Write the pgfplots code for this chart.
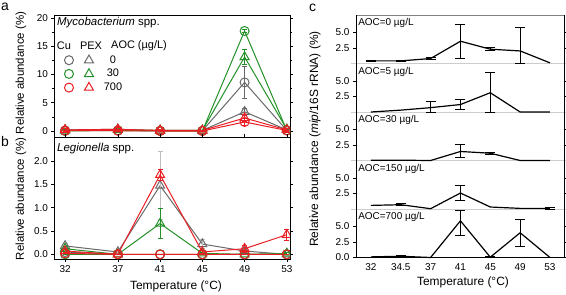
\documentclass[border=0pt]{standalone}
\usepackage{fontspec}
\setmainfont{Liberation Sans}
\usepackage{pgfplots}
\pgfplotsset{compat=1.18}
\usepackage{pgfplotstable}

\definecolor{cgray}{RGB}{105,105,105}
\definecolor{cgreen}{RGB}{35,145,40}
\definecolor{cred}{RGB}{235,30,35}
\definecolor{clgray}{RGB}{190,190,190}
\definecolor{csep}{RGB}{205,205,205}

% Panel c tables: x index (0..6 = 32,34.5,37,41,45,49,53), y, error plus, error minus
\pgfplotstableread{
x y ep em
0 0.42 0.1 0.1
1 0.42 0.1 0.1
2 0.80 0.15 0.15
3 3.58 2.72 2.73
4 2.30 0.2 0.2
5 2.02 3.85 1.97
6 0.10 0 0
}\cA
\pgfplotstableread{
x y ep em
0 0.00 0 0
1 0.30 0 0
2 0.70 1.0 0.7
3 1.20 0.8 0.8
4 3.10 3.2 3.1
5 0.00 0 0
6 0.00 0 0
}\cB
\pgfplotstableread{
x y ep em
0 0.05 0 0
1 0.05 0 0
2 0.00 0 0
3 1.45 1.12 0.92
4 1.17 0.15 0.15
5 0.00 0 0
6 0.00 0 0
}\cC
\pgfplotstableread{
x y ep em
0 0.58 0 0
1 0.69 0.15 0.15
2 0.05 0 0
3 2.57 1.22 1.24
4 0.32 0 0
5 0.10 0 0
6 0.10 0.1 0.1
}\cD
\pgfplotstableread{
x y ep em
0 0.10 0 0
1 0.20 0.08 0.08
2 0.00 0 0
3 5.90 1.70 2.30
4 0.05 0.1 0.05
5 3.98 2.15 2.13
6 0.00 0 0
}\cE

\pgfplotsset{
  tl/.style={font=\fontsize{10}{12}\selectfont},
  abase/.style={scale only axis, width=235.5bp, height=122bp,
    xmin=31, xmax=53.3, tick align=outside,
    axis line style={line width=0.8pt},
    tick style={black, line width=0.6pt},
    major tick length=3bp, minor tick length=2bp,
    tick label style={tl},
    /pgf/number format/assume math mode=true,
    clip marker paths=true},
  serr/.style={error bars/.cd, y dir=both, y explicit,
    error bar style={line width=0.9bp},
    error mark options={rotate=90, mark size=2.5bp, line width=0.9bp}},
  scirc/.style={line width=1bp, mark=o, mark size=4.5bp, mark options={solid, line width=1bp}},
  stri/.style={line width=1bp, mark=triangle, mark size=5.2bp, mark options={solid, line width=1bp}},
  cbase/.style={scale only axis, width=208bp, height=48.5bp,
    xmin=-0.5, xmax=6.47, ymin=0, ymax=7.8, clip=false,
    axis line style={draw=none},
    xtick=\empty, ytick={2.5,5}, yticklabels={2.5,5.0},
    tick align=outside, major tick length=3bp,
    tick style={black, line width=0.6pt},
    tick label style={tl},
    extra y ticks={0}, extra y tick labels={},
    extra y tick style={tick style={csep, line width=0.8pt}, major tick length=5bp}},
  cline/.style={black, line width=1.2bp, no marks},
  cerr/.style={draw=none, no marks, forget plot,
    restrict expr to domain={\thisrow{ep}+\thisrow{em}}{0.01:100},
    error bars/.cd, y dir=both, y explicit,
    error bar style={black, line width=1bp},
    error mark options={rotate=90, mark size=5bp, black, line width=1bp}},
}

\begin{document}
\begin{tikzpicture}
\useasboundingbox (0,0) rectangle (566bp,-295bp);

% ---------------- panel a ----------------
\begin{axis}[abase, at={(54.5bp,-137bp)}, anchor=south west,
  ymin=-1.06, ymax=20.53, xtick=\empty,
  ytick={0,5,10,15,20}, minor ytick={2.5,7.5,12.5,17.5},
  legend columns=2,
  legend image code/.code={\path[draw=none, fill=none] (-6bp,-5bp) rectangle (6bp,5bp); \draw[#1] plot coordinates {(0bp,0bp)};},
  legend style={draw=none, fill=none, at={(axis description cs:0.036,0.672)}, anchor=north west,
    inner sep=0pt, outer sep=0pt, column sep=0pt, row sep=3.5bp,
    nodes={inner sep=0pt, font=\fontsize{11}{12}\selectfont}}]
\addplot[cgray, scirc, serr] coordinates {(32,0.1)+-(0,0.1) (37,0.1)+-(0,0.1) (41,0.05)+-(0,0) (45,0.05)+-(0,0) (49,8.6)+-(0,2.75) (53,0.1)+-(0,0)};
\addlegendentry{\makebox[8bp]{}}
\addplot[cgray, stri, serr] coordinates {(32,0.2)+-(0,0.1) (37,0.3)+-(0,0.3) (41,0.1)+-(0,0) (45,0.1)+-(0,0) (49,3.4)+-(0,0.6) (53,0.2)+-(0,0.1)};
\addlegendentry{\makebox[36bp][c]{0}}
\addplot[cgreen, scirc, serr] coordinates {(32,0.0)+-(0,0) (37,0.1)+-(0,0) (41,0.0)+-(0,0) (45,0.0)+-(0,0) (49,17.7)+-(0,0.3) (53,0.1)+-(0,0)};
\addlegendentry{\makebox[8bp]{}}
\addplot[cgreen, stri, serr] coordinates {(32,0.1)+-(0,0.1) (37,0.2)+-(0,0.2) (41,0.1)+-(0,0) (45,0.1)+-(0,0) (49,13.1)+-(0,1.4) (53,0.3)+-(0,0.2)};
\addlegendentry{\makebox[36bp][c]{30}}
\addplot[cred, scirc, serr] coordinates {(32,0.05)+-(0,0.1) (37,0.05)+-(0,0) (41,0.0)+-(0,0) (45,0.0)+-(0,0) (49,1.6)+-(0,0.6) (53,0.1)+-(0,0)};
\addlegendentry{\makebox[8bp]{}}
\addplot[cred, stri, serr] coordinates {(32,0.2)+-(0,0.2) (37,0.3)+-(0,0.3) (41,0.1)+-(0,0.1) (45,0.1)+-(0,0) (49,2.3)+-(0,0.6) (53,0.2)+-(0,0.2)};
\addlegendentry{\makebox[36bp][c]{700}}
\end{axis}

% ---------------- panel b ----------------
\begin{axis}[abase, at={(54.5bp,-259bp)}, anchor=south west,
  ymin=-0.10, ymax=2.51,
  xtick={32,37,41,45,49,53},
  ytick={0,0.5,1,1.5,2},
  yticklabel style={/pgf/number format/.cd, fixed, fixed zerofill, precision=1}]
\addplot[cgray, scirc, serr] coordinates {(32,0.05)+-(0,0) (37,0)+-(0,0) (41,0)+-(0,0) (45,0)+-(0,0) (49,0)+-(0,0) (53,0)+-(0,0)};
\addplot[cgray, stri, error bars/.cd, y dir=both, y explicit,
    error bar style={clgray, line width=0.9bp},
    error mark options={rotate=90, mark size=2.5bp, clgray, line width=0.9bp}]
  coordinates {(32,0.18)+-(0,0.05) (37,0.05)+-(0,0.03) (41,1.47)+-(0,0.73) (45,0.22)+-(0,0.1) (49,0.07)+-(0,0.03) (53,0.0)+-(0,0)};
\addplot[cgreen, scirc, serr] coordinates {(32,0)+-(0,0) (37,0)+-(0,0) (41,0)+-(0,0) (45,0)+-(0,0) (49,0)+-(0,0) (53,0)+-(0,0)};
\addplot[cgreen, stri, serr] coordinates {(32,0.12)+-(0,0.05) (37,0.0)+-(0,0) (41,0.66)+-(0,0.33) (45,0.02)+-(0,0.02) (49,0.0)+-(0,0) (53,0.02)+-(0,0.02)};
\addplot[cred, scirc, serr] coordinates {(32,0.02)+-(0,0) (37,0)+-(0,0) (41,0)+-(0,0) (45,0)+-(0,0) (49,0)+-(0,0) (53,0)+-(0,0)};
\addplot[cred, stri, serr] coordinates {(32,0.07)+-(0,0.03) (37,0.0)+-(0,0) (41,1.70)+-(0,0.12) (45,0.05)+-(0,0.04) (49,0.12)+-(0,0.07) (53,0.42)+-(0,0.12)};
\end{axis}

% ---------------- panel c ----------------
\begin{axis}[cbase, at={(356bp,-63.5bp)}, anchor=south west]
\draw[gray, line width=0.6pt] (rel axis cs:0,1) -- (rel axis cs:1,1);
\draw[csep, line width=0.8pt] (rel axis cs:0,0) -- (rel axis cs:1,0);
\draw[black, line width=0.8pt] (rel axis cs:0,0) -- (rel axis cs:0,1);
\draw[black, line width=0.8pt] (rel axis cs:1,0) -- (rel axis cs:1,1);
\node[anchor=west, font=\fontsize{10}{12}\selectfont, inner sep=0pt] at (rel axis cs:0.01,0.83) {AOC=0 µg/L};
\addplot[cline] table[x=x,y=y] {\cA};
\addplot[cerr] table[x=x,y=y,y error plus=ep,y error minus=em] {\cA};
\end{axis}
\begin{axis}[cbase, at={(356bp,-112bp)}, anchor=south west]
\draw[csep, line width=0.8pt] (rel axis cs:0,0) -- (rel axis cs:1,0);
\draw[black, line width=0.8pt] (rel axis cs:0,0) -- (rel axis cs:0,1);
\draw[black, line width=0.8pt] (rel axis cs:1,0) -- (rel axis cs:1,1);
\node[anchor=west, font=\fontsize{10}{12}\selectfont, inner sep=0pt] at (rel axis cs:0.01,0.83) {AOC=5 µg/L};
\addplot[cline] table[x=x,y=y] {\cB};
\addplot[cerr] table[x=x,y=y,y error plus=ep,y error minus=em] {\cB};
\end{axis}
\begin{axis}[cbase, at={(356bp,-160.5bp)}, anchor=south west]
\draw[csep, line width=0.8pt] (rel axis cs:0,0) -- (rel axis cs:1,0);
\draw[black, line width=0.8pt] (rel axis cs:0,0) -- (rel axis cs:0,1);
\draw[black, line width=0.8pt] (rel axis cs:1,0) -- (rel axis cs:1,1);
\node[anchor=west, font=\fontsize{10}{12}\selectfont, inner sep=0pt] at (rel axis cs:0.01,0.83) {AOC=30 µg/L};
\addplot[cline] table[x=x,y=y] {\cC};
\addplot[cerr] table[x=x,y=y,y error plus=ep,y error minus=em] {\cC};
\end{axis}
\begin{axis}[cbase, at={(356bp,-209bp)}, anchor=south west]
\draw[csep, line width=0.8pt] (rel axis cs:0,0) -- (rel axis cs:1,0);
\draw[black, line width=0.8pt] (rel axis cs:0,0) -- (rel axis cs:0,1);
\draw[black, line width=0.8pt] (rel axis cs:1,0) -- (rel axis cs:1,1);
\node[anchor=west, font=\fontsize{10}{12}\selectfont, inner sep=0pt] at (rel axis cs:0.01,0.83) {AOC=150 µg/L};
\addplot[cline] table[x=x,y=y] {\cD};
\addplot[cerr] table[x=x,y=y,y error plus=ep,y error minus=em] {\cD};
\end{axis}
\begin{axis}[cbase, at={(356bp,-257.5bp)}, anchor=south west,
  ytick={0,2.5,5}, yticklabels={0.0,2.5,5.0}, extra y ticks={},
  xtick={0,1,2,3,4,5,6}, xticklabels={32,34.5,37,41,45,49,53},
  xtick style={draw=none}]
\draw[black, line width=0.8pt] (rel axis cs:0,0) -- (rel axis cs:0,1);
\draw[black, line width=0.8pt] (rel axis cs:1,0) -- (rel axis cs:1,1);
\draw[black, line width=0.8pt] (rel axis cs:0,0) -- (rel axis cs:1,0);
\node[anchor=west, font=\fontsize{10}{12}\selectfont, inner sep=0pt] at (rel axis cs:0.01,0.83) {AOC=700 µg/L};
\addplot[cline] table[x=x,y=y] {\cE};
\addplot[cerr] table[x=x,y=y,y error plus=ep,y error minus=em] {\cE};
\end{axis}

% ---------------- text ----------------
\node[inner sep=0pt, font=\fontsize{14}{15}\selectfont] at (5bp,-7bp) {a};
\node[inner sep=0pt, font=\fontsize{14}{15}\selectfont] at (5bp,-142bp) {b};
\node[inner sep=0pt, font=\fontsize{14}{15}\selectfont] at (312.5bp,-8bp) {c};
\node[anchor=west, inner sep=0pt, font=\fontsize{11.5}{13}\selectfont] at (57bp,-23bp) {\textit{Mycobacterium} spp.};
\node[anchor=west, inner sep=0pt, font=\fontsize{11.5}{13}\selectfont] at (57bp,-149bp) {\textit{Legionella} spp.};
\node[inner sep=0pt, font=\fontsize{11}{13}\selectfont] at (64bp,-46bp) {Cu};
\node[inner sep=0pt, font=\fontsize{11}{13}\selectfont] at (91bp,-46bp) {PEX};
\node[anchor=west, inner sep=0pt, font=\fontsize{11}{13}\selectfont] at (111bp,-46bp) {AOC (µg/L)};
\node[rotate=90, inner sep=0pt, font=\fontsize{11.5}{13}\selectfont] at (21bp,-73bp) {Relative abundance (\%)};
\node[rotate=90, inner sep=0pt, font=\fontsize{11.5}{13}\selectfont] at (21bp,-199bp) {Relative abundance (\%)};
\node[rotate=90, inner sep=0pt, font=\fontsize{12}{14}\selectfont] at (315bp,-139bp) {Relative abundance (\textit{mip}/16S rRNA) (\%)};
\node[inner sep=0pt, font=\fontsize{12}{14}\selectfont] at (176bp,-286bp) {Temperature (°C)};
\node[inner sep=0pt, font=\fontsize{12}{14}\selectfont] at (463bp,-282bp) {Temperature (°C)};
\end{tikzpicture}
\end{document}
